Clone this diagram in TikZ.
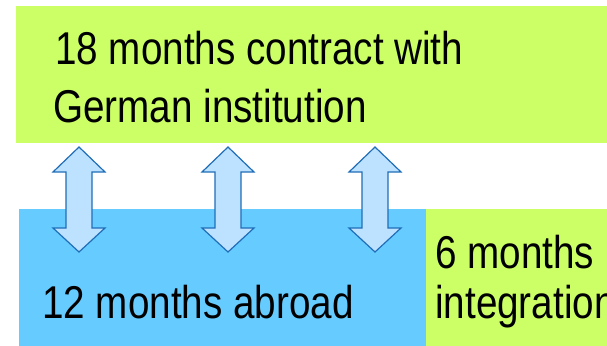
\documentclass[tikz,border=0pt]{standalone}
\usepackage{fontspec}
\usepackage{graphicx}
\setmainfont{Liberation Sans}
\definecolor{lime}{HTML}{CCFF66}
\definecolor{sky}{HTML}{66CCFF}
\definecolor{arrowfill}{HTML}{BDE2FF}
\definecolor{arrowline}{HTML}{1F6DB8}
\newcommand{\narrowtext}[1]{\scalebox{0.84}[1]{#1}}
\tikzset{
  box/.style={draw=none, inner sep=0pt, anchor=north west},
  bigtext/.style={anchor=base west, inner sep=0pt, font=\fontsize{46}{46}\selectfont},
  swaparrow/.style={draw=arrowline, fill=arrowfill, line width=1.2pt, line join=miter}
}
\begin{document}
\begin{tikzpicture}[x=1pt, y=-1pt]
          \useasboundingbox (0,0) rectangle (607,345);
          \clip (0,0) rectangle (607,345);
          \node[box, fill=lime, minimum width=600pt, minimum height=137pt] (contract) at (16,6) {};
          \node[box, fill=sky, minimum width=407pt, minimum height=140pt] (abroad) at (19,209) {};
          \node[box, fill=lime, minimum width=190pt, minimum height=140pt] (integration) at (426,209) {};

          \node[bigtext] (line1) at (55,64) {\narrowtext{18 months contract with}};
          \node[bigtext] (line2) at (53,122) {\narrowtext{German institution}};
          \node[bigtext] (abroadtext) at (42,318) {\narrowtext{12 months abroad}};
          \node[bigtext] (sixmonths) at (435,268) {\narrowtext{6 months}};
          \node[bigtext] (integrationtext) at (435,318) {\narrowtext{integration}};

          \foreach \cx in {79,228,375}
            \draw[swaparrow] (\cx,147) -- (\cx+26,172) -- (\cx+13,172) -- (\cx+13,228)
              -- (\cx+26,228) -- (\cx,252) -- (\cx-26,228) -- (\cx-13,228)
              -- (\cx-13,172) -- (\cx-26,172) -- cycle;
        \end{tikzpicture}
\end{document}
